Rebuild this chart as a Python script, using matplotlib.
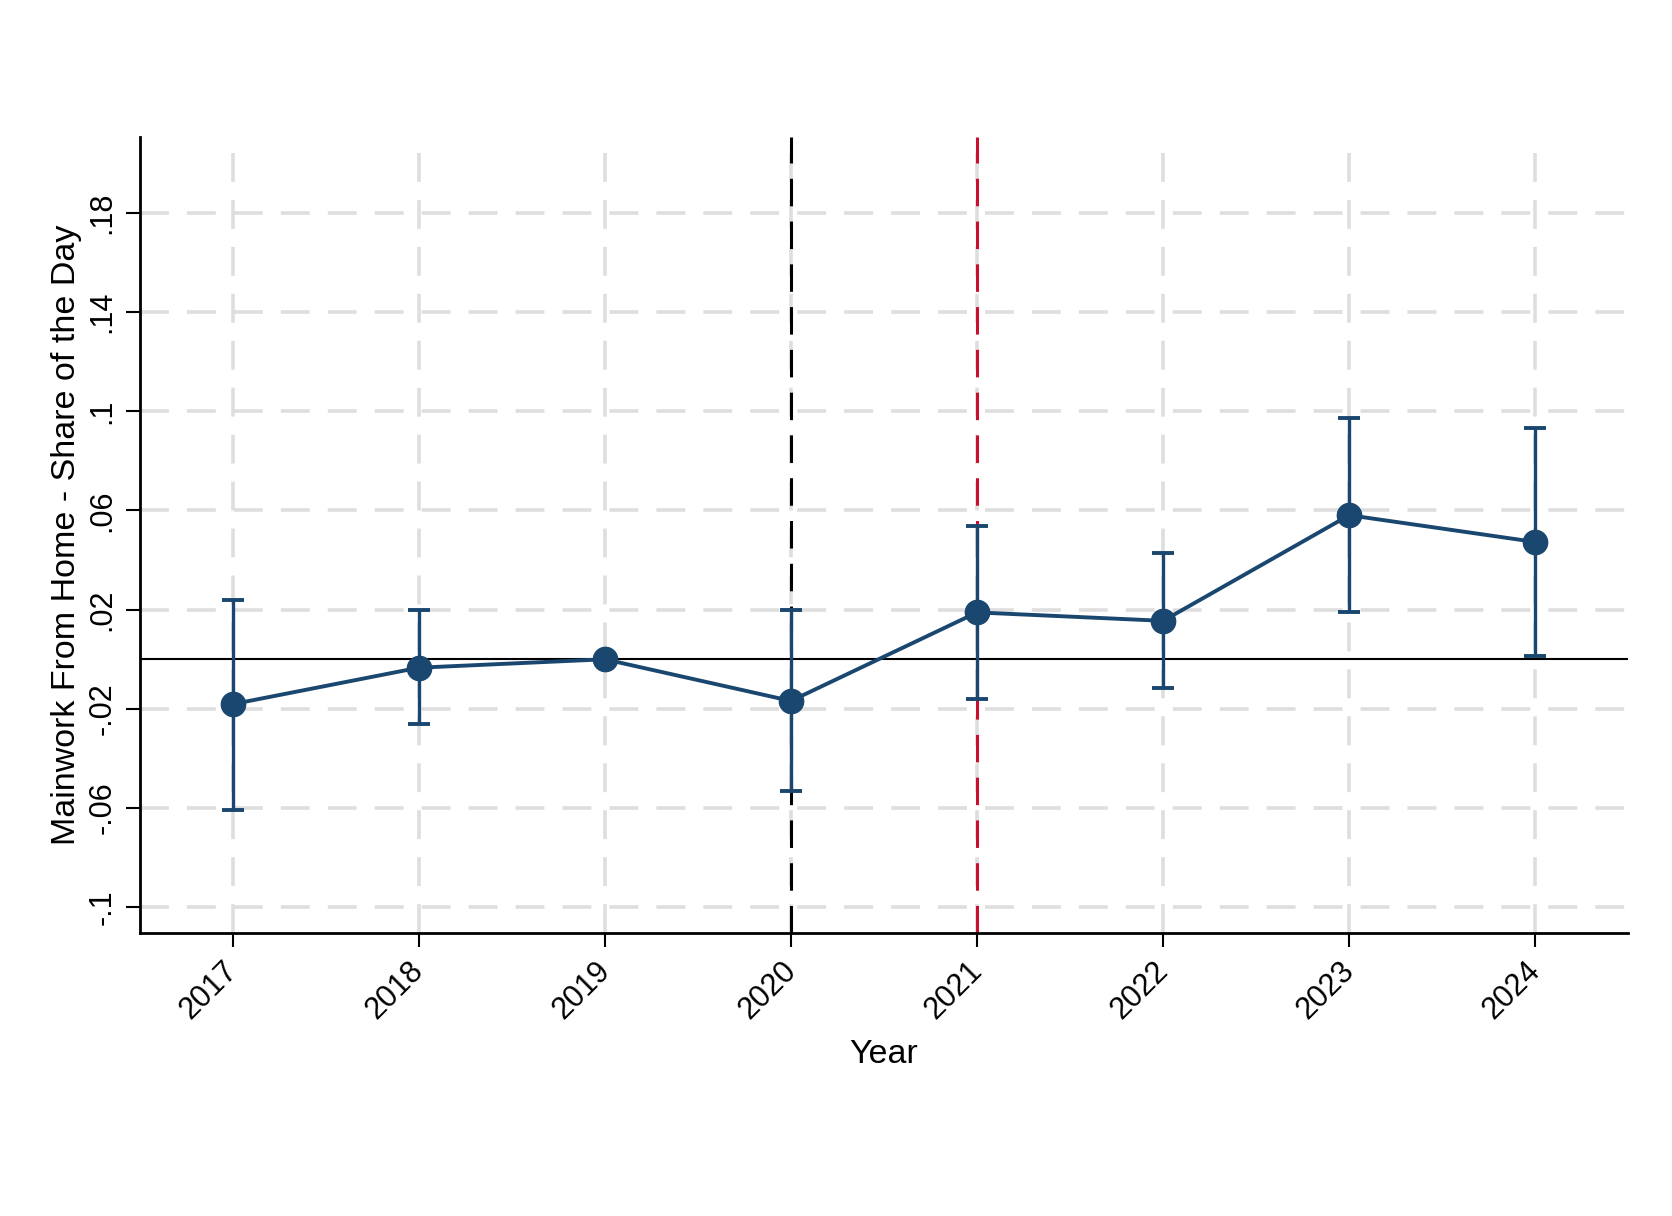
import matplotlib
matplotlib.use("Agg")
import matplotlib.pyplot as plt
import matplotlib.transforms as mtransforms
import numpy as np

plt.rcParams['font.family'] = ['Liberation Sans', 'DejaVu Sans']

years = [2017, 2018, 2019, 2020, 2021, 2022, 2023, 2024]
coef = [-0.0181, -0.0034, 0.0, -0.0168, 0.0189, 0.0155, 0.0581, 0.0473]
ci_low = [-0.0606, -0.0262, 0.0, -0.0533, -0.0159, -0.0116, 0.0189, 0.0013]
ci_high = [0.0241, 0.0198, 0.0, 0.0198, 0.0538, 0.0430, 0.0972, 0.0933]
yticks = [-0.1, -0.06, -0.02, 0.02, 0.06, 0.1, 0.14, 0.18]
ytick_labels = ['-.1', '-.06', '-.02', '.02', '.06', '.1', '.14', '.18']
vline_black = 2020
vline_red = 2021

navy = '#1a476f'
grid_c = '#dedede'

fig = plt.figure(figsize=(16.72, 12.16), dpi=100)
ax = fig.add_axes([0.0835, 0.2325, 0.8904, 0.6552])

ax.set_xlim(2016.5, 2024.5)
ax.set_ylim(-0.1105, 0.2108)

# grid
for yv in yticks:
    ax.axhline(yv, color=grid_c, lw=2.6, ls=(0, (8, 5)), zorder=0)
for xv in years:
    ax.axvline(xv, color=grid_c, lw=2.6, ls=(0, (8, 5)), zorder=0)

ax.axhline(0, color='black', lw=1.5, zorder=1)
ax.axvline(vline_black, color='black', lw=2.2, ls=(0, (9, 5)), zorder=1)
ax.axvline(vline_red, color='#c8102e', lw=2.2, ls=(0, (9, 5)), zorder=1)

coef_a = np.array(coef)
yerr = np.vstack([coef_a - np.array(ci_low), np.array(ci_high) - coef_a])
mask = yerr.sum(axis=0) > 0
yr = np.array(years)
ax.errorbar(yr[mask], coef_a[mask], yerr=yerr[:, mask], fmt='none', ecolor=navy,
            elinewidth=2.4, capsize=8, capthick=2.8, zorder=2)
ax.plot(years, coef, color=navy, lw=2.8, marker='o', markersize=17.5,
        markerfacecolor=navy, markeredgecolor=navy, zorder=3)

ax.set_yticks(yticks)
ax.set_yticklabels(ytick_labels, rotation=90, va='center')
ax.set_xticks(years)
ax.set_xticklabels([str(y) for y in years], rotation=45, ha='right', rotation_mode='anchor')
ax.tick_params(axis='both', labelsize=22, length=10, width=1.5, color='black')
ax.tick_params(axis='x', pad=6)
ax.tick_params(axis='y', pad=6)

offset = mtransforms.ScaledTranslation(-0.10, 0.0, fig.dpi_scale_trans)
for lab in ax.get_xticklabels():
    lab.set_transform(lab.get_transform() + offset)

for s in ['top', 'right']:
    ax.spines[s].set_visible(False)
for s in ['left', 'bottom']:
    ax.spines[s].set_linewidth(2)

ax.set_xlabel('Year', fontsize=24.5, labelpad=10)
ax.set_ylabel('Mainwork From Home - Share of the Day', fontsize=24.5, labelpad=4)

fig.savefig('out.png', dpi=100, facecolor='white')
